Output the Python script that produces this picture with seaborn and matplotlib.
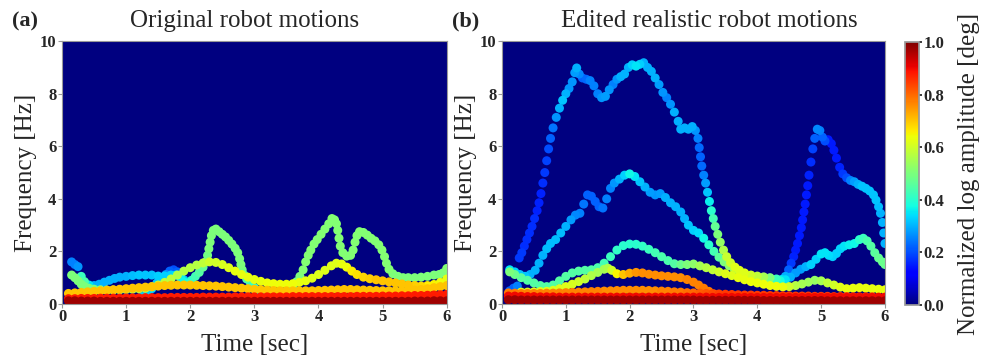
import numpy as np
import pandas as pd
import matplotlib
matplotlib.use("Agg")
import matplotlib.pyplot as plt
import seaborn as sns
from matplotlib.colors import Normalize
from matplotlib.cm import ScalarMappable

sns.set_theme(style="white")
plt.rcParams["font.family"] = ["Liberation Serif", "DejaVu Serif"]
jet = plt.get_cmap("jet")

# common time grid of the flat low-frequency bands [sec]
t_grid = [0.1, 0.2, 0.3, 0.4, 0.5, 0.6, 0.7, 0.8, 0.9, 1.0,
          1.1, 1.2, 1.3, 1.4, 1.5, 1.6, 1.7, 1.8, 1.9, 2.0,
          2.1, 2.2, 2.3, 2.4, 2.5, 2.6, 2.7, 2.8, 2.9, 3.0,
          3.1, 3.2, 3.3, 3.4, 3.5, 3.6, 3.7, 3.8, 3.9, 4.0,
          4.1, 4.2, 4.3, 4.4, 4.5, 4.6, 4.7, 4.8, 4.9, 5.0,
          5.1, 5.2, 5.3, 5.4, 5.5, 5.6, 5.7, 5.8, 5.9, 6.0]

# ---- (a) original motions: (time, frequency, normalized amplitude)
a_imf1 = [
    (0.15, 1.60, 0.25), (0.20, 1.50, 0.25), (0.25, 1.42, 0.27), (0.30, 1.05, 0.42), (0.35, 0.85, 0.44),
    (0.42, 0.72, 0.35), (0.50, 0.70, 0.30), (0.58, 0.75, 0.30), (0.66, 0.83, 0.30), (0.74, 0.90, 0.30),
    (0.82, 0.97, 0.30), (0.90, 1.02, 0.30), (1.00, 1.05, 0.30), (1.10, 1.08, 0.31), (1.20, 1.10, 0.32),
    (1.30, 1.10, 0.32), (1.40, 1.10, 0.32), (1.50, 1.06, 0.33), (1.60, 1.06, 0.33), (1.70, 1.10, 0.33),
    (1.78, 1.10, 0.35), (1.85, 1.00, 0.36), (1.90, 0.85, 0.37), (1.95, 0.78, 0.38), (2.02, 0.90, 0.41),
    (2.08, 1.05, 0.43), (2.14, 1.20, 0.45), (2.20, 1.40, 0.47), (2.24, 1.60, 0.48), (2.27, 1.85, 0.49),
    (2.29, 2.10, 0.50), (2.31, 2.35, 0.50), (2.33, 2.60, 0.50), (2.36, 2.80, 0.50), (2.40, 2.85, 0.50),
    (2.45, 2.75, 0.50), (2.50, 2.65, 0.50), (2.55, 2.55, 0.50), (2.60, 2.42, 0.50), (2.65, 2.28, 0.50),
    (2.70, 2.12, 0.50), (2.74, 1.95, 0.50), (2.77, 1.72, 0.50), (2.79, 1.50, 0.50), (2.81, 1.30, 0.49),
    (2.84, 1.10, 0.47), (2.88, 0.95, 0.45), (2.94, 0.80, 0.42), (3.00, 0.62, 0.40), (3.06, 0.48, 0.38),
    (3.12, 0.34, 0.37), (3.18, 0.20, 0.36), (3.24, 0.10, 0.36), (3.30, 0.03, 0.36), (3.36, 0.10, 0.37),
    (3.42, 0.22, 0.39), (3.48, 0.36, 0.41), (3.54, 0.50, 0.43), (3.60, 0.66, 0.46), (3.66, 0.85, 0.48),
    (3.71, 1.05, 0.50), (3.76, 1.30, 0.51), (3.80, 1.60, 0.51), (3.84, 1.85, 0.51), (3.88, 2.05, 0.51),
    (3.93, 2.28, 0.51), (3.98, 2.45, 0.51), (4.04, 2.65, 0.51), (4.10, 2.85, 0.51), (4.16, 3.05, 0.51),
    (4.21, 3.25, 0.51), (4.25, 3.20, 0.51), (4.28, 3.05, 0.51), (4.30, 2.80, 0.51), (4.32, 2.50, 0.51),
    (4.34, 2.20, 0.51), (4.38, 1.95, 0.51), (4.44, 1.82, 0.51), (4.50, 1.85, 0.51), (4.54, 2.05, 0.51),
    (4.57, 2.35, 0.51), (4.60, 2.60, 0.51), (4.64, 2.75, 0.51), (4.70, 2.72, 0.51), (4.76, 2.62, 0.51),
    (4.82, 2.50, 0.51), (4.88, 2.40, 0.51), (4.94, 2.25, 0.51), (4.99, 2.05, 0.51), (5.03, 1.80, 0.51),
    (5.06, 1.55, 0.51), (5.10, 1.32, 0.51), (5.16, 1.15, 0.50), (5.24, 1.05, 0.50), (5.32, 1.00, 0.50),
    (5.40, 1.00, 0.50), (5.50, 1.00, 0.50), (5.60, 1.02, 0.50), (5.70, 1.05, 0.50), (5.80, 1.10, 0.50),
    (5.88, 1.12, 0.50), (5.94, 1.18, 0.50), (6.00, 1.35, 0.51),
]
a_blue = [
    (0.13, 0.30, 0.22), (0.20, 0.30, 0.22), (0.27, 0.32, 0.22),
    (1.00, 0.05, 0.30), (1.08, 0.10, 0.32), (1.16, 0.18, 0.33), (1.24, 0.28, 0.33), (1.32, 0.40, 0.33),
    (1.40, 0.58, 0.33), (1.48, 0.80, 0.32), (1.55, 0.98, 0.30), (1.62, 1.12, 0.27), (1.68, 1.25, 0.22),
    (1.74, 1.30, 0.20), (1.80, 1.22, 0.22), (1.85, 1.08, 0.28), (1.90, 0.92, 0.32),
]
a_imf3 = [
    (0.15, 1.10, 0.50), (0.20, 1.00, 0.50), (0.25, 0.88, 0.50), (0.30, 0.75, 0.50), (0.35, 0.66, 0.50),
    (0.42, 0.60, 0.50), (0.50, 0.56, 0.50), (0.60, 0.54, 0.52), (0.70, 0.53, 0.53), (0.80, 0.53, 0.54),
    (0.90, 0.54, 0.55), (1.00, 0.55, 0.55), (1.10, 0.56, 0.56), (1.20, 0.58, 0.57), (1.30, 0.60, 0.58),
    (1.40, 0.65, 0.58), (1.50, 0.72, 0.58), (1.60, 0.82, 0.58), (1.70, 0.95, 0.58), (1.80, 1.10, 0.57),
    (1.90, 1.25, 0.57), (2.00, 1.38, 0.57), (2.10, 1.48, 0.57), (2.20, 1.56, 0.58), (2.30, 1.60, 0.60),
    (2.40, 1.58, 0.60), (2.50, 1.50, 0.61), (2.60, 1.38, 0.62), (2.70, 1.25, 0.63), (2.80, 1.12, 0.63),
    (2.90, 1.02, 0.63), (3.00, 0.93, 0.63), (3.10, 0.86, 0.63), (3.20, 0.80, 0.64), (3.30, 0.77, 0.64),
    (3.40, 0.75, 0.64), (3.50, 0.75, 0.64), (3.60, 0.77, 0.64), (3.70, 0.82, 0.63), (3.80, 0.88, 0.63),
    (3.90, 0.98, 0.62), (4.00, 1.12, 0.62), (4.10, 1.28, 0.62), (4.20, 1.45, 0.62), (4.28, 1.55, 0.62),
    (4.36, 1.52, 0.63), (4.44, 1.40, 0.64), (4.52, 1.25, 0.66), (4.60, 1.12, 0.67), (4.70, 1.02, 0.68),
    (4.80, 0.96, 0.69), (4.90, 0.92, 0.70), (5.00, 0.88, 0.70), (5.10, 0.84, 0.70), (5.20, 0.80, 0.70),
    (5.30, 0.76, 0.70), (5.40, 0.72, 0.70), (5.50, 0.70, 0.69), (5.60, 0.68, 0.68), (5.70, 0.70, 0.66),
    (5.80, 0.74, 0.65), (5.90, 0.82, 0.64), (6.00, 0.95, 0.63),
]
# flat bands of panel (a), sampled on t_grid
a_orange_f = [0.40, 0.42, 0.44, 0.46, 0.48, 0.50, 0.52, 0.54, 0.56, 0.58,
              0.60, 0.62, 0.64, 0.66, 0.68, 0.70, 0.71, 0.72, 0.72, 0.72,
              0.71, 0.70, 0.69, 0.68, 0.66, 0.64, 0.62, 0.60, 0.58, 0.56,
              0.54, 0.52, 0.51, 0.50, 0.50, 0.50, 0.50, 0.50, 0.50, 0.51,
              0.52, 0.53, 0.54, 0.55, 0.55, 0.54, 0.53, 0.52, 0.51, 0.50,
              0.50, 0.50, 0.50, 0.51, 0.53, 0.55, 0.58, 0.62, 0.66, 0.70]
a_orange_amp = 0.70
a_red_f = [0.20, 0.20, 0.21, 0.21, 0.21, 0.22, 0.22, 0.22, 0.22, 0.23,
           0.23, 0.23, 0.24, 0.24, 0.24, 0.24, 0.25, 0.25, 0.25, 0.25,
           0.25, 0.26, 0.26, 0.26, 0.26, 0.26, 0.27, 0.27, 0.27, 0.27,
           0.27, 0.27, 0.27, 0.27, 0.27, 0.28, 0.28, 0.28, 0.28, 0.28,
           0.28, 0.28, 0.28, 0.28, 0.28, 0.29, 0.29, 0.29, 0.29, 0.30,
           0.30, 0.30, 0.31, 0.31, 0.32, 0.32, 0.33, 0.34, 0.35, 0.36]
a_red_amp = 0.88
a_dark_f = [0.12, 0.12, 0.11, 0.11, 0.11, 0.10, 0.10, 0.10, 0.10, 0.10,
            0.10, 0.10, 0.10, 0.10, 0.10, 0.10, 0.10, 0.10, 0.10, 0.10,
            0.10, 0.10, 0.10, 0.10, 0.10, 0.10, 0.10, 0.10, 0.10, 0.10,
            0.10, 0.10, 0.10, 0.10, 0.10, 0.10, 0.10, 0.10, 0.10, 0.10,
            0.10, 0.10, 0.10, 0.10, 0.10, 0.10, 0.10, 0.10, 0.10, 0.10,
            0.10, 0.10, 0.10, 0.10, 0.11, 0.11, 0.11, 0.12, 0.12, 0.12]
a_dark_amp = 0.97

# ---- (b) edited realistic motions
b_imf1 = [
    (0.12, 0.50, 0.22), (0.18, 0.60, 0.22), (0.24, 0.68, 0.25),
    (0.27, 1.75, 0.18), (0.31, 1.95, 0.18), (0.35, 2.20, 0.17), (0.39, 2.45, 0.17), (0.43, 2.70, 0.17),
    (0.47, 2.95, 0.17), (0.51, 3.25, 0.17), (0.55, 3.55, 0.16), (0.58, 3.85, 0.16), (0.61, 4.20, 0.16),
    (0.64, 4.60, 0.17), (0.67, 5.00, 0.18), (0.70, 5.45, 0.19), (0.73, 5.90, 0.20), (0.76, 6.30, 0.22),
    (0.80, 6.70, 0.24), (0.85, 7.10, 0.27), (0.90, 7.45, 0.30), (0.95, 7.75, 0.32), (1.00, 8.00, 0.30),
    (1.05, 8.20, 0.27), (1.10, 8.45, 0.27), (1.14, 8.80, 0.28), (1.17, 8.98, 0.30), (1.21, 8.75, 0.26),
    (1.26, 8.60, 0.22), (1.32, 8.55, 0.23), (1.38, 8.50, 0.25), (1.44, 8.30, 0.25), (1.50, 8.00, 0.25),
    (1.56, 7.85, 0.27), (1.62, 7.90, 0.28), (1.68, 8.15, 0.27), (1.74, 8.35, 0.25), (1.80, 8.55, 0.27),
    (1.86, 8.65, 0.30), (1.92, 8.75, 0.30), (1.98, 9.00, 0.30), (2.04, 9.10, 0.33), (2.10, 9.05, 0.35),
    (2.16, 9.12, 0.33), (2.22, 9.18, 0.30), (2.28, 9.00, 0.30), (2.34, 8.85, 0.30), (2.40, 8.60, 0.30),
    (2.46, 8.35, 0.28), (2.52, 8.05, 0.27), (2.58, 7.85, 0.25), (2.64, 7.60, 0.27), (2.70, 7.30, 0.30),
    (2.76, 6.95, 0.30), (2.80, 6.65, 0.30), (2.86, 6.70, 0.30), (2.92, 6.65, 0.30), (2.98, 6.75, 0.30),
    (3.03, 6.60, 0.27), (3.07, 6.30, 0.25), (3.09, 5.95, 0.23), (3.11, 5.60, 0.22), (3.13, 5.25, 0.23),
    (3.16, 4.90, 0.25), (3.19, 4.60, 0.28), (3.22, 4.25, 0.32), (3.25, 3.90, 0.36), (3.28, 3.55, 0.40),
    (3.31, 3.25, 0.43), (3.34, 2.95, 0.47), (3.38, 2.65, 0.50), (3.42, 2.35, 0.53), (3.47, 2.05, 0.56),
    (3.52, 1.80, 0.59), (3.58, 1.57, 0.60), (3.65, 1.40, 0.62), (3.72, 1.28, 0.62), (3.80, 1.18, 0.62),
    (3.90, 1.10, 0.60), (4.00, 1.06, 0.58), (4.10, 1.03, 0.55), (4.20, 1.00, 0.50), (4.30, 0.95, 0.42),
    (4.38, 0.93, 0.35), (4.44, 1.05, 0.30), (4.49, 1.30, 0.22), (4.53, 1.55, 0.18), (4.57, 1.80, 0.16),
    (4.60, 2.05, 0.15), (4.63, 2.30, 0.15), (4.66, 2.60, 0.15), (4.69, 2.90, 0.15), (4.71, 3.20, 0.15),
    (4.73, 3.50, 0.15), (4.75, 3.80, 0.15), (4.77, 4.15, 0.15), (4.79, 4.50, 0.15), (4.81, 4.90, 0.16),
    (4.84, 5.40, 0.17), (4.87, 5.90, 0.19), (4.90, 6.30, 0.22), (4.94, 6.65, 0.26), (4.98, 6.60, 0.25),
    (5.02, 6.35, 0.22), (5.06, 6.20, 0.20), (5.11, 6.25, 0.15), (5.16, 6.10, 0.15), (5.20, 5.85, 0.15),
    (5.24, 5.55, 0.15), (5.29, 5.20, 0.16), (5.34, 4.95, 0.18), (5.40, 4.80, 0.20), (5.46, 4.70, 0.25),
    (5.52, 4.65, 0.28), (5.58, 4.55, 0.30), (5.64, 4.48, 0.32), (5.70, 4.40, 0.32), (5.76, 4.30, 0.32),
    (5.82, 4.15, 0.32), (5.86, 3.95, 0.32), (5.90, 3.70, 0.31), (5.93, 3.45, 0.30), (5.96, 3.10, 0.30),
    (5.98, 2.70, 0.30), (6.00, 2.30, 0.30),
]
b_imf2 = [
    (0.12, 1.30, 0.35), (0.20, 1.22, 0.33), (0.28, 1.12, 0.32), (0.36, 1.05, 0.32), (0.44, 1.12, 0.30),
    (0.52, 1.28, 0.30), (0.58, 1.55, 0.30), (0.64, 1.85, 0.30), (0.70, 2.10, 0.31), (0.76, 2.30, 0.31),
    (0.84, 2.45, 0.31), (0.92, 2.70, 0.31), (1.00, 2.95, 0.30), (1.08, 3.20, 0.28), (1.15, 3.38, 0.26),
    (1.22, 3.45, 0.25), (1.28, 3.80, 0.24), (1.34, 4.15, 0.22), (1.40, 4.10, 0.22), (1.46, 3.90, 0.22),
    (1.52, 3.70, 0.22), (1.58, 3.65, 0.24), (1.64, 4.00, 0.25), (1.70, 4.40, 0.25), (1.76, 4.60, 0.27),
    (1.84, 4.75, 0.30), (1.92, 4.90, 0.33), (2.00, 4.95, 0.37), (2.08, 4.85, 0.35), (2.16, 4.65, 0.32),
    (2.24, 4.45, 0.30), (2.32, 4.25, 0.28), (2.40, 4.15, 0.27), (2.48, 4.20, 0.28), (2.56, 4.05, 0.30),
    (2.64, 3.85, 0.30), (2.72, 3.70, 0.30), (2.80, 3.50, 0.30), (2.86, 3.25, 0.30), (2.92, 3.00, 0.32),
    (3.00, 2.80, 0.33), (3.08, 2.70, 0.34), (3.16, 2.50, 0.37), (3.24, 2.25, 0.40), (3.32, 2.00, 0.43),
    (3.40, 1.78, 0.46), (3.48, 1.60, 0.50), (3.56, 1.45, 0.52), (3.64, 1.32, 0.55), (3.72, 1.22, 0.57),
    (3.80, 1.13, 0.58), (3.88, 1.05, 0.58), (3.96, 1.00, 0.55), (4.04, 0.97, 0.50), (4.12, 0.95, 0.45),
    (4.20, 0.93, 0.42), (4.28, 0.90, 0.40), (4.36, 0.88, 0.38), (4.44, 0.92, 0.35), (4.52, 1.02, 0.30),
    (4.60, 1.18, 0.28), (4.68, 1.32, 0.28), (4.76, 1.42, 0.30), (4.84, 1.50, 0.33), (4.92, 1.70, 0.33),
    (5.00, 1.90, 0.35), (5.06, 1.95, 0.35), (5.12, 1.85, 0.34), (5.18, 1.80, 0.33), (5.24, 1.92, 0.33),
    (5.30, 2.10, 0.33), (5.36, 2.20, 0.35), (5.44, 2.25, 0.36), (5.52, 2.30, 0.37), (5.60, 2.45, 0.40),
    (5.66, 2.50, 0.42), (5.72, 2.40, 0.44), (5.78, 2.20, 0.45), (5.84, 1.95, 0.46), (5.90, 1.75, 0.47),
    (5.96, 1.60, 0.48), (6.00, 1.50, 0.48),
]
b_imf3 = [
    (0.12, 1.22, 0.50), (0.20, 1.12, 0.48), (0.30, 1.00, 0.46), (0.40, 0.90, 0.45), (0.50, 0.80, 0.45),
    (0.60, 0.70, 0.45), (0.70, 0.66, 0.45), (0.80, 0.72, 0.45), (0.90, 0.88, 0.45), (1.00, 1.05, 0.45),
    (1.10, 1.18, 0.45), (1.20, 1.25, 0.45), (1.30, 1.28, 0.45), (1.40, 1.30, 0.45), (1.50, 1.38, 0.44),
    (1.60, 1.55, 0.43), (1.70, 1.80, 0.42), (1.80, 2.05, 0.41), (1.90, 2.22, 0.40), (2.00, 2.28, 0.40),
    (2.10, 2.27, 0.40), (2.20, 2.20, 0.41), (2.30, 2.08, 0.42), (2.40, 1.95, 0.43), (2.50, 1.80, 0.44),
    (2.60, 1.65, 0.44), (2.70, 1.53, 0.45), (2.80, 1.50, 0.48), (2.90, 1.50, 0.50), (3.00, 1.52, 0.52),
    (3.10, 1.45, 0.55), (3.20, 1.38, 0.57), (3.30, 1.30, 0.58), (3.40, 1.22, 0.60), (3.50, 1.15, 0.62),
    (3.60, 1.08, 0.62), (3.70, 1.00, 0.63), (3.80, 0.92, 0.63), (3.90, 0.85, 0.64), (4.00, 0.80, 0.64),
    (4.10, 0.75, 0.64), (4.20, 0.70, 0.64), (4.30, 0.67, 0.64), (4.40, 0.65, 0.63), (4.50, 0.66, 0.60),
    (4.60, 0.70, 0.57), (4.70, 0.76, 0.55), (4.80, 0.83, 0.54), (4.90, 0.90, 0.53), (5.00, 0.88, 0.55),
    (5.10, 0.80, 0.58), (5.20, 0.72, 0.60), (5.30, 0.64, 0.62), (5.40, 0.58, 0.63), (5.50, 0.60, 0.63),
    (5.60, 0.62, 0.63), (5.70, 0.60, 0.63), (5.80, 0.58, 0.63), (5.90, 0.56, 0.63), (6.00, 0.54, 0.63),
]
b_imf4 = [
    (0.30, 0.45, 0.62), (0.40, 0.45, 0.62), (0.50, 0.46, 0.62), (0.60, 0.47, 0.62), (0.70, 0.48, 0.62),
    (0.80, 0.52, 0.62), (0.90, 0.58, 0.62), (1.00, 0.66, 0.62), (1.10, 0.75, 0.61), (1.20, 0.85, 0.60),
    (1.30, 0.95, 0.58), (1.40, 1.08, 0.56), (1.50, 1.20, 0.55), (1.60, 1.32, 0.55), (1.66, 1.36, 0.56),
    (1.72, 1.28, 0.60), (1.80, 1.15, 0.65), (1.90, 1.12, 0.70), (2.00, 1.17, 0.73), (2.10, 1.20, 0.75),
    (2.20, 1.18, 0.76), (2.30, 1.13, 0.76), (2.40, 1.10, 0.76), (2.50, 1.07, 0.76), (2.60, 1.05, 0.76),
    (2.70, 1.03, 0.76), (2.80, 1.00, 0.76), (2.90, 0.93, 0.77), (3.00, 0.83, 0.77), (3.08, 0.72, 0.77),
    (3.16, 0.60, 0.78), (3.24, 0.48, 0.78), (3.32, 0.38, 0.80),
]
b_orange_f = [0.42, 0.41, 0.40, 0.40, 0.40, 0.40, 0.41, 0.41, 0.42, 0.43,
              0.44, 0.45, 0.46, 0.47, 0.48, 0.49, 0.50, 0.51, 0.52, 0.52,
              0.52, 0.52, 0.51, 0.50, 0.49, 0.48, 0.46, 0.45, 0.43, 0.42,
              0.41, 0.40, 0.39, 0.38, 0.37, 0.36, 0.35, 0.34, 0.34, 0.33,
              0.33, 0.32, 0.32, 0.31, 0.31, 0.30, 0.30, 0.30, 0.29, 0.29,
              0.29, 0.28, 0.28, 0.28, 0.27, 0.27, 0.27, 0.27, 0.26, 0.26]
b_orange_amp = [0.78, 0.78, 0.77, 0.77, 0.77, 0.77, 0.77, 0.77, 0.77, 0.77,
                0.77, 0.77, 0.77, 0.77, 0.77, 0.76, 0.76, 0.76, 0.76, 0.76,
                0.76, 0.76, 0.76, 0.76, 0.77, 0.77, 0.78, 0.78, 0.79, 0.80,
                0.81, 0.82, 0.83, 0.84, 0.85, 0.85, 0.85, 0.85, 0.85, 0.85,
                0.85, 0.85, 0.85, 0.85, 0.85, 0.85, 0.85, 0.85, 0.85, 0.85,
                0.85, 0.85, 0.85, 0.85, 0.85, 0.85, 0.85, 0.85, 0.85, 0.85]
b_red_f = [0.30, 0.30, 0.29, 0.28, 0.28, 0.27, 0.27, 0.27, 0.26, 0.26,
           0.26, 0.26, 0.26, 0.26, 0.26, 0.26, 0.26, 0.26, 0.26, 0.26,
           0.26, 0.26, 0.26, 0.26, 0.26, 0.26, 0.26, 0.26, 0.26, 0.26,
           0.26, 0.26, 0.25, 0.25, 0.25, 0.25, 0.25, 0.25, 0.25, 0.25,
           0.25, 0.25, 0.25, 0.25, 0.25, 0.25, 0.25, 0.25, 0.25, 0.25,
           0.25, 0.25, 0.25, 0.25, 0.25, 0.25, 0.25, 0.25, 0.25, 0.25]
b_red_amp = 0.90
b_dark_f = [0.16, 0.16, 0.15, 0.15, 0.15, 0.15, 0.15, 0.15, 0.15, 0.15,
            0.15, 0.15, 0.15, 0.15, 0.15, 0.15, 0.15, 0.15, 0.15, 0.15,
            0.15, 0.15, 0.15, 0.15, 0.15, 0.15, 0.15, 0.15, 0.15, 0.15,
            0.14, 0.14, 0.14, 0.14, 0.14, 0.14, 0.14, 0.14, 0.14, 0.14,
            0.13, 0.13, 0.13, 0.13, 0.13, 0.13, 0.13, 0.13, 0.13, 0.13,
            0.12, 0.12, 0.12, 0.12, 0.12, 0.12, 0.12, 0.12, 0.12, 0.12]
b_dark_amp = 0.97


def pts(points):
    return pd.DataFrame(points, columns=["t", "f", "amp"])


def band(f, amp):
    d = pd.DataFrame({"t": t_grid, "f": f})
    d["amp"] = amp
    return d


panel_a = pd.concat([pts(a_imf1), pts(a_blue), pts(a_imf3),
                     band(a_orange_f, a_orange_amp), band(a_red_f, a_red_amp),
                     band(a_dark_f, a_dark_amp)], ignore_index=True)
panel_b = pd.concat([pts(b_imf1), pts(b_imf2), pts(b_imf3), pts(b_imf4),
                     band(b_orange_f, b_orange_amp), band(b_red_f, b_red_amp),
                     band(b_dark_f, b_dark_amp)], ignore_index=True)

fig = plt.figure(figsize=(9.89, 3.58), dpi=100)
ax_a = fig.add_axes([0.0627, 0.151, 0.389, 0.734])
ax_b = fig.add_axes([0.5076, 0.151, 0.3872, 0.734])
cax = fig.add_axes([0.915, 0.148, 0.0142, 0.735])

for ax, d in [(ax_a, panel_a), (ax_b, panel_b)]:
    d = d.sort_values("amp")  # strong components on top
    ax.set_facecolor(jet(0.0))
    sns.scatterplot(data=d, x="t", y="f", hue="amp", palette=jet, hue_norm=(0, 1),
                    s=42, linewidth=0, legend=False, ax=ax)
    ax.set_xlim(0, 6)
    ax.set_ylim(0, 10)
    ax.set_xticks(range(0, 7))
    ax.set_yticks(range(0, 11, 2))
    ax.tick_params(bottom=True, left=True, length=3, width=0.8, color="0.6",
                   pad=1, labelsize=12)
    for lab in ax.get_xticklabels() + ax.get_yticklabels():
        lab.set_fontweight("bold")
    for sp in ax.spines.values():
        sp.set_color("0.6")
        sp.set_linewidth(0.8)
    ax.set_xlabel("Time [sec]", fontsize=18, labelpad=6)
    ax.set_ylabel("Frequency [Hz]", fontsize=18, labelpad=2)

fig.text(0.012, 0.94, "(a)", fontsize=16, fontweight="bold", va="center")
fig.text(0.457, 0.94, "(b)", fontsize=16, fontweight="bold", va="center")
fig.text(0.247, 0.94, "Original robot motions", fontsize=18, ha="center", va="center")
fig.text(0.717, 0.94, "Edited realistic robot motions", fontsize=18, ha="center", va="center")

sm = ScalarMappable(norm=Normalize(0, 1), cmap=jet)
cb = fig.colorbar(sm, cax=cax, ticks=[0, 0.2, 0.4, 0.6, 0.8, 1.0])
cb.ax.set_yticklabels(["0.0", "0.2", "0.4", "0.6", "0.8", "1.0"], fontweight="bold", fontsize=12)
cb.ax.tick_params(length=2, pad=1)
cb.outline.set_edgecolor("0.6")
cb.set_label("Normalized log amplitude [deg]", fontsize=18, labelpad=10)

fig.savefig("out.png", dpi=100)
